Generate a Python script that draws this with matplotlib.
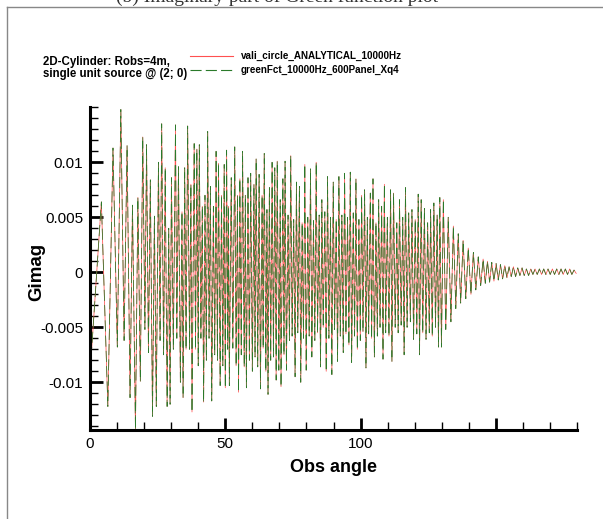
import numpy as np
import matplotlib
matplotlib.use("Agg")
import matplotlib.pyplot as plt
from matplotlib.lines import Line2D
from matplotlib.ticker import MultipleLocator, FixedLocator

plt.rcParams['font.family'] = ['Liberation Sans', 'DejaVu Sans']
plt.rcParams['lines.scale_dashes'] = False

# peaks / troughs, segment by segment
angle_rise = [0.4, 4.2, 6.6, 8.5, 10.1, 11.4, 12.6, 13.7, 14.8, 15.7, 16.8, 17.7, 18.6, 19.5, 20.3,
              20.9, 21.6, 22.3, 23.1, 23.8, 24.5, 25.3, 25.9, 26.5, 27.2, 27.8, 28.5, 29.1, 29.6, 30.1,
              30.8, 31.6, 32.1, 32.7, 33.4, 34.0, 34.4, 35.0, 35.5]
gimag_rise = [-0.0078, 0.0064, -0.0122, 0.0113, -0.0068, 0.0148, -0.0062, 0.0115, -0.0114, 0.0061,
              -0.0143, 0.0068, -0.0099, 0.0123, -0.0052, 0.0116, -0.0073, 0.0084, -0.0131, 0.0051,
              -0.0122, 0.0100, -0.0062, 0.0135, -0.0075, 0.0095, -0.0122, 0.0040, -0.0120, 0.0086,
              -0.0070, 0.0134, -0.0060, 0.0096, -0.0100, 0.0055, -0.0114, 0.0095, -0.0070]

angle_dense1 = [36.1, 36.8, 37.3, 37.7, 38.5, 39.0, 39.5, 40.0, 40.4, 41.0, 41.5, 42.0, 42.5, 43.0, 43.5,
                44.0, 44.5, 45.0, 45.6, 46.1, 46.6, 47.1, 47.5, 48.1, 48.6, 49.1, 49.6, 50.0, 50.5, 50.9,
                51.2, 51.5, 52.2, 52.8, 53.5, 54.0, 54.5, 54.9, 55.4, 55.9, 56.4, 57.0, 57.4, 57.8, 58.4,
                58.9, 59.4, 60.0, 60.6, 61.0, 61.4, 62.0, 62.5, 63.0, 63.6, 64.0, 64.4, 65.0, 65.4, 65.8,
                66.3, 66.8, 67.3, 67.8, 68.3, 68.8, 69.2, 69.8, 70.3, 70.6, 71.3, 71.7]
gimag_dense1 = [0.0133, -0.0070, 0.0080, -0.0127, 0.0117, -0.0070, 0.0112, -0.0085, 0.0116, -0.0060,
                0.0060, -0.0118, 0.0070, -0.0080, 0.0128, -0.0060, 0.0078, -0.0117, 0.0060, -0.0075,
                0.0110, -0.0080, 0.0099, -0.0103, 0.0070, -0.0085, 0.0098, -0.0105, 0.0111, -0.0070,
                0.0060, -0.0103, 0.0086, -0.0069, 0.0114, -0.0085, 0.0070, -0.0109, 0.0085, -0.0075,
                0.0110, -0.0086, 0.0070, -0.0105, 0.0086, -0.0080, 0.0090, -0.0090, 0.0080, -0.0077,
                0.0103, -0.0086, 0.0089, -0.0106, 0.0070, -0.0069, 0.0108, -0.0090, 0.0057, -0.0111,
                0.0077, -0.0080, 0.0100, -0.0077, 0.0095, -0.0098, 0.0101, -0.0089, 0.0066, -0.0104,
                0.0085, -0.0075]

angle_dense2 = [72.1, 72.6, 73.2, 73.7, 74.2, 74.7, 75.3, 75.8, 76.3, 76.8, 77.4, 77.9, 78.4, 78.9, 79.4,
                79.9, 80.5, 81.0, 81.5, 82.0, 82.6, 83.1, 83.6, 84.1, 84.7, 85.2, 85.7, 86.2, 86.8, 87.3,
                87.8, 88.3, 88.9, 89.4, 89.9, 90.4, 91.0, 91.5, 92.0, 92.5, 93.1, 93.6, 94.1, 94.6, 95.2,
                95.7, 96.2, 96.7, 97.3, 97.8, 98.3, 98.8, 99.4, 99.9, 100.4, 100.9, 101.5, 102.0, 102.5,
                103.0, 103.6, 104.1, 104.6, 105.1, 105.7, 106.2, 106.7, 107.2, 107.8, 108.3, 108.8, 109.3]
gimag_dense2 = [0.0101, -0.0089, 0.0052, -0.0062, 0.0106, -0.0058, 0.0048, -0.0095, 0.0082, -0.0055,
                0.0078, -0.0100, 0.0045, -0.0060, 0.0098, -0.0089, 0.0050, -0.0058, 0.0094, -0.0077,
                0.0047, -0.0062, 0.0100, -0.0055, 0.0052, -0.0086, 0.0066, -0.0050, 0.0055, -0.0090,
                0.0087, -0.0060, 0.0050, -0.0093, 0.0082, -0.0052, 0.0048, -0.0081, 0.0087, -0.0058,
                0.0052, -0.0073, 0.0090, -0.0056, 0.0050, -0.0066, 0.0091, -0.0082, 0.0054, -0.0058,
                0.0085, -0.0070, 0.0048, -0.0062, 0.0070, -0.0054, 0.0075, -0.0087, 0.0050, -0.0056,
                0.0072, -0.0060, 0.0085, -0.0077, 0.0045, -0.0058, 0.0066, -0.0050, 0.0060, -0.0079,
                0.0080, -0.0055]

angle_fade = [109.9, 110.5, 111.1, 111.6, 112.2, 112.8, 113.4, 113.9, 114.4, 115.0, 115.6, 116.1, 116.6,
              117.2, 117.8, 118.4, 119.0, 119.6, 120.2, 120.8, 121.3, 121.8, 122.4, 123.0, 123.6, 124.2,
              124.8, 125.4, 125.9, 126.5, 127.1, 127.7, 128.3, 128.8, 129.3, 129.9, 130.6, 131.5, 132.4,
              133.4, 134.3, 135.2, 136.1, 137.0, 137.9, 138.9, 139.8, 140.8, 141.7, 142.6, 143.5, 144.4]
gimag_fade = [0.0050, -0.0058, 0.0075, -0.0081, 0.0072, -0.0050, 0.0045, -0.0055, 0.0066, -0.0048,
              0.0050, -0.0075, 0.0077, -0.0050, 0.0054, -0.0045, 0.0057, -0.0061, 0.0048, -0.0056,
              0.0071, -0.0075, 0.0066, -0.0055, 0.0058, -0.0061, 0.0045, -0.0055, 0.0057, -0.0058,
              0.0063, -0.0050, 0.0052, -0.0068, 0.0068, -0.0068, 0.0066, -0.0052, 0.0050, -0.0045,
              0.0042, -0.0033, 0.0035, -0.0028, 0.0029, -0.0024, 0.0022, -0.0020, 0.0018, -0.0016,
              0.0014, -0.0012]

angle_tail = [145.3, 146.1, 146.9, 147.7, 148.5, 149.3, 150.1, 150.9, 151.7, 152.5, 153.3, 154.1, 154.9,
              155.7, 156.5, 157.3, 158.1, 158.9, 159.7, 160.5, 161.3, 162.1, 162.9, 163.7, 164.5, 165.3,
              166.1, 166.9, 167.7, 168.5, 169.3, 170.1, 170.9, 171.7, 172.5, 173.3, 174.1, 174.9, 175.7,
              176.5, 177.3, 178.1, 178.9, 179.7]
gimag_tail = [0.0012, -0.0010, 0.0010, -0.0009, 0.0009, -0.0008, 0.0008, -0.0007, 0.0007, -0.0006,
              0.0006, -0.0005, 0.0005, -0.0004, 0.0005, -0.0004, 0.0004, -0.0003, 0.0004, -0.0003,
              0.0003, -0.0003, 0.0003, -0.0002, 0.0003, -0.0002, 0.0003, -0.0002, 0.0003, -0.0002,
              0.0003, -0.0002, 0.0003, -0.0002, 0.0003, -0.0002, 0.0003, -0.0002, 0.0003, -0.0002,
              0.0003, -0.0002, 0.0002, -0.0001]

label_analytic = "vali_circle_ANALYTICAL_10000Hz"
label_numeric = "greenFct_10000Hz_600Panel_Xq4"
xtick_vals = [0, 50, 100, 150]
xtick_text = ["0", "50", "100", ""]
ytick_vals = [-0.01, -0.005, 0, 0.005, 0.01]
ytick_text = ["-0.01", "-0.005", "0", "0.005", "0.01"]

angle = np.array(angle_rise + angle_dense1 + angle_dense2 + angle_fade + angle_tail)
gimag = np.array(gimag_rise + gimag_dense1 + gimag_dense2 + gimag_fade + gimag_tail)

red = '#ff5050'
green = '#2a7a2a'

fig = plt.figure(figsize=(6.03, 5.19), dpi=100)
ax = fig.add_axes([90/603, 89/519, 487/603, 322.7/519])

ax.plot(angle, gimag, color=red, lw=0.55, label=label_analytic)
ln, = ax.plot(angle, gimag, color=green, lw=0.55, label=label_numeric)
ln.set_dashes([8, 3])

ax.set_xlim(0, 180)
ax.set_ylim(-0.01434, 0.015)
ax.xaxis.set_major_locator(FixedLocator(xtick_vals))
ax.set_xticklabels(xtick_text)
ax.xaxis.set_minor_locator(MultipleLocator(10))
ax.yaxis.set_major_locator(FixedLocator(ytick_vals))
ax.set_yticklabels(ytick_text)
ax.yaxis.set_minor_locator(MultipleLocator(0.001))
ax.tick_params(which='major', direction='in', length=9, width=2, labelsize=11, pad=5)
ax.tick_params(which='minor', direction='in', length=6, width=1)
for s in ['top', 'right']:
    ax.spines[s].set_visible(False)
for s in ['left', 'bottom']:
    ax.spines[s].set_linewidth(2.2)

ax.set_xlabel("Obs angle", fontsize=13, fontweight='bold', labelpad=6)
ax.set_ylabel("Gimag", fontsize=13.5, fontweight='bold')
ax.yaxis.set_label_coords(-0.092, 0.49)

# header block
fig.text(43/603, 1 - 61.5/519, "2D-Cylinder: Robs=4m,", fontsize=8.3, fontweight='bold', va='center')
fig.text(43/603, 1 - 74/519, "single unit source @ (2; 0)", fontsize=8.3, fontweight='bold', va='center')
fig.add_artist(Line2D([190/603, 233/603], [1 - 56/519] * 2, color=red, lw=0.8))
fig.add_artist(Line2D([190/603, 233/603], [1 - 70/519] * 2, color=green, lw=0.8, dashes=[8, 3]))
fig.text(241/603, 1 - 56/519, label_analytic, fontsize=7.1, fontweight='bold', va='center')
fig.text(241/603, 1 - 70/519, label_numeric, fontsize=7.1, fontweight='bold', va='center')

# frame and clipped caption at top
fig.add_artist(Line2D([7/603, 7/603], [0, 1 - 7/519], color='#888888', lw=1))
fig.add_artist(Line2D([7/603, 1], [1 - 7/519] * 2, color='#888888', lw=1))
fig.text(0.46, 1 - 1.5/519, "(b) Imaginary part of Green function plot", fontsize=14,
         family=['Liberation Serif', 'DejaVu Serif'], ha='center', va='baseline', color='#333333')

fig.savefig("out.png", dpi=100)
